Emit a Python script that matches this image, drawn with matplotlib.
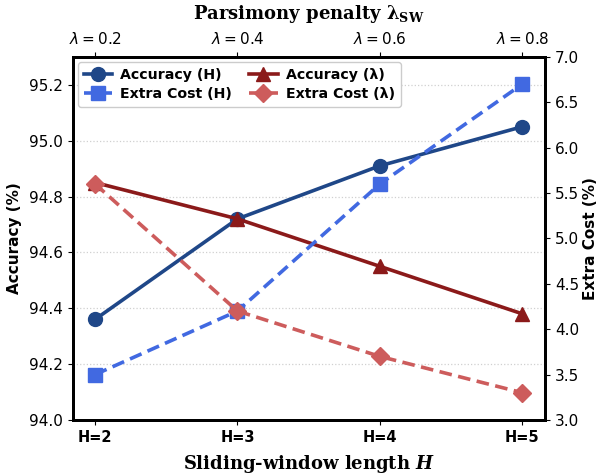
import matplotlib
matplotlib.use('Agg')
import matplotlib.pyplot as plt
from matplotlib.lines import Line2D

# --- Data ---
h_labels = ['H=2', 'H=3', 'H=4', 'H=5']
lam_labels = [r'$\lambda = 0.2$', r'$\lambda = 0.4$', r'$\lambda = 0.6$', r'$\lambda = 0.8$']
acc_h = [94.36, 94.72, 94.91, 95.05]
cost_h = [3.5, 4.2, 5.6, 6.7]
acc_lam = [94.85, 94.72, 94.55, 94.38]
cost_lam = [5.6, 4.2, 3.7, 3.3]

c_acc_h = '#1F4788'
c_cost_h = '#4169E1'
c_acc_lam = '#8B1A1A'
c_cost_lam = '#CD5C5C'

plt.rcParams.update({
    'font.family': 'DejaVu Sans',
    'axes.linewidth': 2.0,
    'xtick.labelsize': 10.5,
    'ytick.labelsize': 11,
})

x = list(range(len(h_labels)))
dash = (0, (3.5, 1.8))

fig, ax = plt.subplots(figsize=(6.03, 4.74), dpi=100)
ax2 = ax.twinx()
ax_top = ax.twiny()

ax.plot(x, acc_h, color=c_acc_h, lw=2.6, marker='o', ms=10, zorder=3)
ax.plot(x, acc_lam, color=c_acc_lam, lw=2.6, marker='^', ms=10, zorder=3)
ax2.plot(x, cost_h, color=c_cost_h, lw=2.6, ls=dash, marker='s', ms=10, zorder=3)
ax2.plot(x, cost_lam, color=c_cost_lam, lw=2.6, ls=dash, marker='D', ms=9, zorder=3)

ax.set_xlim(-0.155, 3.16)
ax.set_ylim(94.0, 95.3)
ax.set_yticks([94.0, 94.2, 94.4, 94.6, 94.8, 95.0, 95.2])
ax2.set_ylim(3.0, 7.0)
ax2.set_yticks([3.0, 3.5, 4.0, 4.5, 5.0, 5.5, 6.0, 6.5, 7.0])

ax.set_xticks(x)
ax.set_xticklabels(h_labels, fontweight='bold')
ax_top.set_xlim(ax.get_xlim())
ax_top.set_xticks(x)
ax_top.set_xticklabels(lam_labels, fontsize=11)

ax.grid(axis='y', color='#d0d0d0', linestyle=':', linewidth=0.9)
ax.set_axisbelow(True)

ax.set_ylabel('Accuracy (%)', fontsize=11, fontweight='bold', labelpad=5)
ax2.set_ylabel('Extra Cost (%)', fontsize=11, fontweight='bold', labelpad=3)
ax.set_xlabel(r'Sliding-window length $\mathbfit{H}$', fontsize=13, fontweight='bold',
              family='DejaVu Serif', math_fontfamily='dejavuserif', labelpad=6)
ax_top.set_xlabel(r'Parsimony penalty $\boldsymbol{\lambda}_{\mathbf{SW}}$', fontsize=13,
                  fontweight='bold', family='DejaVu Serif', math_fontfamily='dejavuserif', labelpad=9)

handles = [
    Line2D([0], [0], color=c_acc_h, lw=2.6, marker='o', ms=10, label='Accuracy (H)'),
    Line2D([0], [0], color=c_cost_h, lw=2.6, ls=dash, marker='s', ms=10, label='Extra Cost (H)'),
    Line2D([0], [0], color=c_acc_lam, lw=2.6, marker='^', ms=10, label='Accuracy (λ)'),
    Line2D([0], [0], color=c_cost_lam, lw=2.6, ls=dash, marker='D', ms=9, label='Extra Cost (λ)'),
]
ax.legend(handles=handles, loc='upper left', ncol=2, prop={'weight': 'bold', 'size': 10.2},
          handlelength=2.0, columnspacing=1.2, handletextpad=0.6, labelspacing=0.4,
          borderaxespad=0.35, framealpha=1.0)

fig.subplots_adjust(left=0.121, right=0.904, bottom=0.114, top=0.88)
fig.savefig('out.png', dpi=100)
